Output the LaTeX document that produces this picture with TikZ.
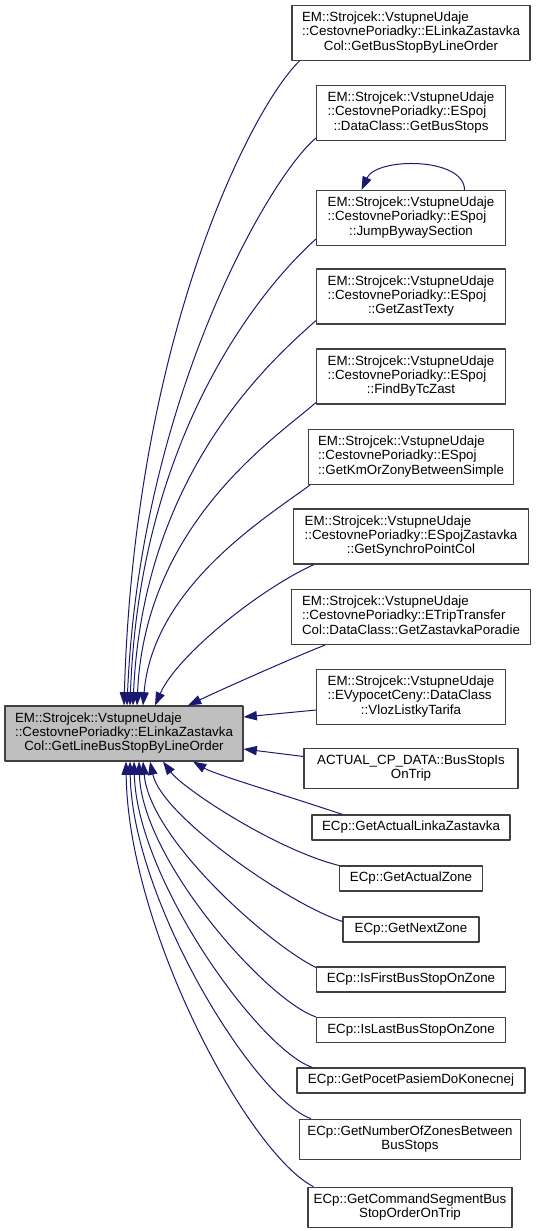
\documentclass[tikz,border=0pt]{standalone}
\usepackage{fontspec}
\setmainfont{Liberation Sans}
\usetikzlibrary{arrows.meta,calc}

\definecolor{edgeblue}{HTML}{191970}
\definecolor{boxgrey}{HTML}{BFBFBF}

% label lines: all left aligned, the last one centred
\newcommand{\fnstack}[1]{\begin{tabular}{@{}l@{}}#1\end{tabular}}
\newcommand{\fncentre}[1]{\multicolumn{1}{@{}c@{}}{#1}}

\begin{document}
\begin{tikzpicture}[
  x=0.75pt, y=-0.75pt,
  line join=round,
  every node/.style={font=\fontsize{10}{10.7}\selectfont},
  fnbox/.style={draw=black!75, fill=white, line width=.8pt, inner sep=0pt, minimum height=41.25pt},
  fntwo/.style={fnbox, minimum height=30.5pt},
  fnone/.style={fnbox, minimum height=18.75pt},
  mainbox/.style={fnbox, fill=boxgrey},
  calledge/.style={draw=edgeblue, line width=.75pt, -{Triangle[length=10pt,width=7pt]}}
]
% Bounding box.
\useasboundingbox (0,0) rectangle (536,1231);

% The function itself.
\node[mainbox, minimum width=178.5pt] (main) at (124,733.5)
  {\fnstack{EM::Strojcek::VstupneUdaje\\::CestovnePoriadky::ELinkaZastavka\\\fncentre{Col::GetLineBusStopByLineOrder}}};

% Callers, one column on the right.
\node[fnbox, minimum width=178.5pt] (cA) at (411,33)
  {\fnstack{EM::Strojcek::VstupneUdaje\\::CestovnePoriadky::ELinkaZastavka\\\fncentre{Col::GetBusStopByLineOrder}}};
\node[fnbox, minimum width=141.75pt] (cB) at (411,113)
  {\fnstack{EM::Strojcek::VstupneUdaje\\::CestovnePoriadky::ESpoj\\\fncentre{::DataClass::GetBusStops}}};
\node[fnbox, minimum width=141.75pt] (cC) at (411,218)
  {\fnstack{EM::Strojcek::VstupneUdaje\\::CestovnePoriadky::ESpoj\\\fncentre{::JumpBywaySection}}};
\node[fnbox, minimum width=141.75pt] (cD) at (411,296.5)
  {\fnstack{EM::Strojcek::VstupneUdaje\\::CestovnePoriadky::ESpoj\\\fncentre{::GetZastTexty}}};
\node[fnbox, minimum width=141.75pt] (cE) at (411,376.5)
  {\fnstack{EM::Strojcek::VstupneUdaje\\::CestovnePoriadky::ESpoj\\\fncentre{::FindByTcZast}}};
\node[fnbox, minimum width=153.75pt] (cF) at (411,457)
  {\fnstack{EM::Strojcek::VstupneUdaje\\::CestovnePoriadky::ESpoj\\\fncentre{::GetKmOrZonyBetweenSimple}}};
\node[fnbox, minimum width=176.25pt] (cG) at (411,536.5)
  {\fnstack{EM::Strojcek::VstupneUdaje\\::CestovnePoriadky::ESpojZastavka\\\fncentre{::GetSynchroPointCol}}};
\node[fnbox, minimum width=179.25pt] (cH) at (411,617)
  {\fnstack{EM::Strojcek::VstupneUdaje\\::CestovnePoriadky::ETripTransfer\\\fncentre{Col::DataClass::GetZastavkaPoradie}}};
\node[fnbox, minimum width=141.75pt] (cI) at (411,697)
  {\fnstack{EM::Strojcek::VstupneUdaje\\::EVypocetCeny::DataClass\\\fncentre{::VlozListkyTarifa}}};
\node[fntwo, minimum width=160.5pt] (cJ) at (411,768.5)
  {\fnstack{ACTUAL\_CP\_DATA::BusStopIs\\\fncentre{OnTrip}}};
\node[fnone, minimum width=148.5pt] (cK) at (411,827.5) {ECp::GetActualLinkaZastavka};
\node[fnone, minimum width=107.25pt] (cL) at (411,878.5) {ECp::GetActualZone};
\node[fnone, minimum width=102pt] (cM) at (411,929.5) {ECp::GetNextZone};
\node[fnone, minimum width=141.75pt] (cN) at (411,979.5) {ECp::IsFirstBusStopOnZone};
\node[fnone, minimum width=141.75pt] (cO) at (411,1030) {ECp::IsLastBusStopOnZone};
\node[fnone, minimum width=171pt] (cP) at (411,1080.5) {ECp::GetPocetPasiemDoKonecnej};
\node[fntwo, minimum width=165.75pt] (cQ) at (410,1139.5)
  {\fnstack{ECp::GetNumberOfZonesBetween\\\fncentre{BusStops}}};
\node[fntwo, minimum width=153pt] (cR) at (410,1207.5)
  {\fnstack{ECp::GetCommandSegmentBus\\\fncentre{StopOrderOnTrip}}};

% Calls coming in from above.
\draw[calledge] ($(cA.south west)+(8,0)$) .. controls +(-45,43) and +(11,-376) .. ($(main.north)+(0,0)$);
\draw[calledge] ($(cB.south west)+(0,-3)$) .. controls +(-46,38) and +(13,-306) .. ($(main.north)+(3,0)$);
\draw[calledge] ($(cC.south west)+(0,-7)$) .. controls +(-45,40) and +(10,-281) .. ($(main.north)+(6,0)$);
\draw[calledge] ($(cD.south west)+(0,-4)$) .. controls +(-45,40) and +(10,-232) .. ($(main.north)+(9,0)$);
\draw[calledge] ($(cE.south west)+(0,-2)$) .. controls +(-40,35) and +(8,-182) .. ($(main.north)+(13,0)$);
\draw[calledge] ($(cF.south west)+(2,0)$) .. controls +(-40,30) and +(10,-120) .. ($(main.north)+(19,0)$);
\draw[calledge] ($(cG.south west)+(21,0)$) .. controls +(-55,25) and +(22,-50) .. ($(main.north)+(31,0)$);
\draw[calledge] ($(cH.south west)+(34,0)$) .. controls +(-40,16) and +(25,-12) .. ($(main.north)+(64,0)$);

% Calls coming in from the side.
\draw[calledge] ($(cI.west)+(0,13)$) -- ($(main.east)+(0,-16.5)$);
\draw[calledge] ($(cJ.west)+(0,-12)$) -- ($(main.east)+(0,15.5)$);

% Calls coming in from below.
\draw[calledge] ($(cK.north west)+(31,0)$) .. controls +(-53,-18) and +(22,13) .. ($(main.south)+(69,0)$);
\draw[calledge] ($(cL.north west)+(0,0)$) .. controls +(-64,-16) and +(20,27) .. ($(main.south)+(39,0)$);
\draw[calledge] ($(cM.north west)+(0,5)$) .. controls +(-53,-17) and +(12,55) .. ($(main.south)+(26,0)$);
\draw[calledge] ($(cN.north west)+(0,1)$) .. controls +(-47,-23) and +(7,78) .. ($(main.south)+(19,0)$);
\draw[calledge] ($(cO.north west)+(0,0)$) .. controls +(-50,-17) and +(3,98) .. ($(main.south)+(15,0)$);
\draw[calledge] ($(cP.north west)+(16,0)$) .. controls +(-53,-18) and +(3,118) .. ($(main.south)+(10,0)$);
\draw[calledge] ($(cQ.north west)+(12,0)$) .. controls +(-57,-20) and +(2,138) .. ($(main.south)+(6,0)$);
\draw[calledge] ($(cR.north west)+(6,0)$) .. controls +(-65,-33) and +(2,168) .. ($(main.south)+(2,0)$);

% Recursive call.
\draw[calledge] ($(cC.north)+(53.5,0)$) .. controls +(0,-33) and +(15,-33) .. ($(cC.north)+(-49.5,0)$);
\end{tikzpicture}
\end{document}
